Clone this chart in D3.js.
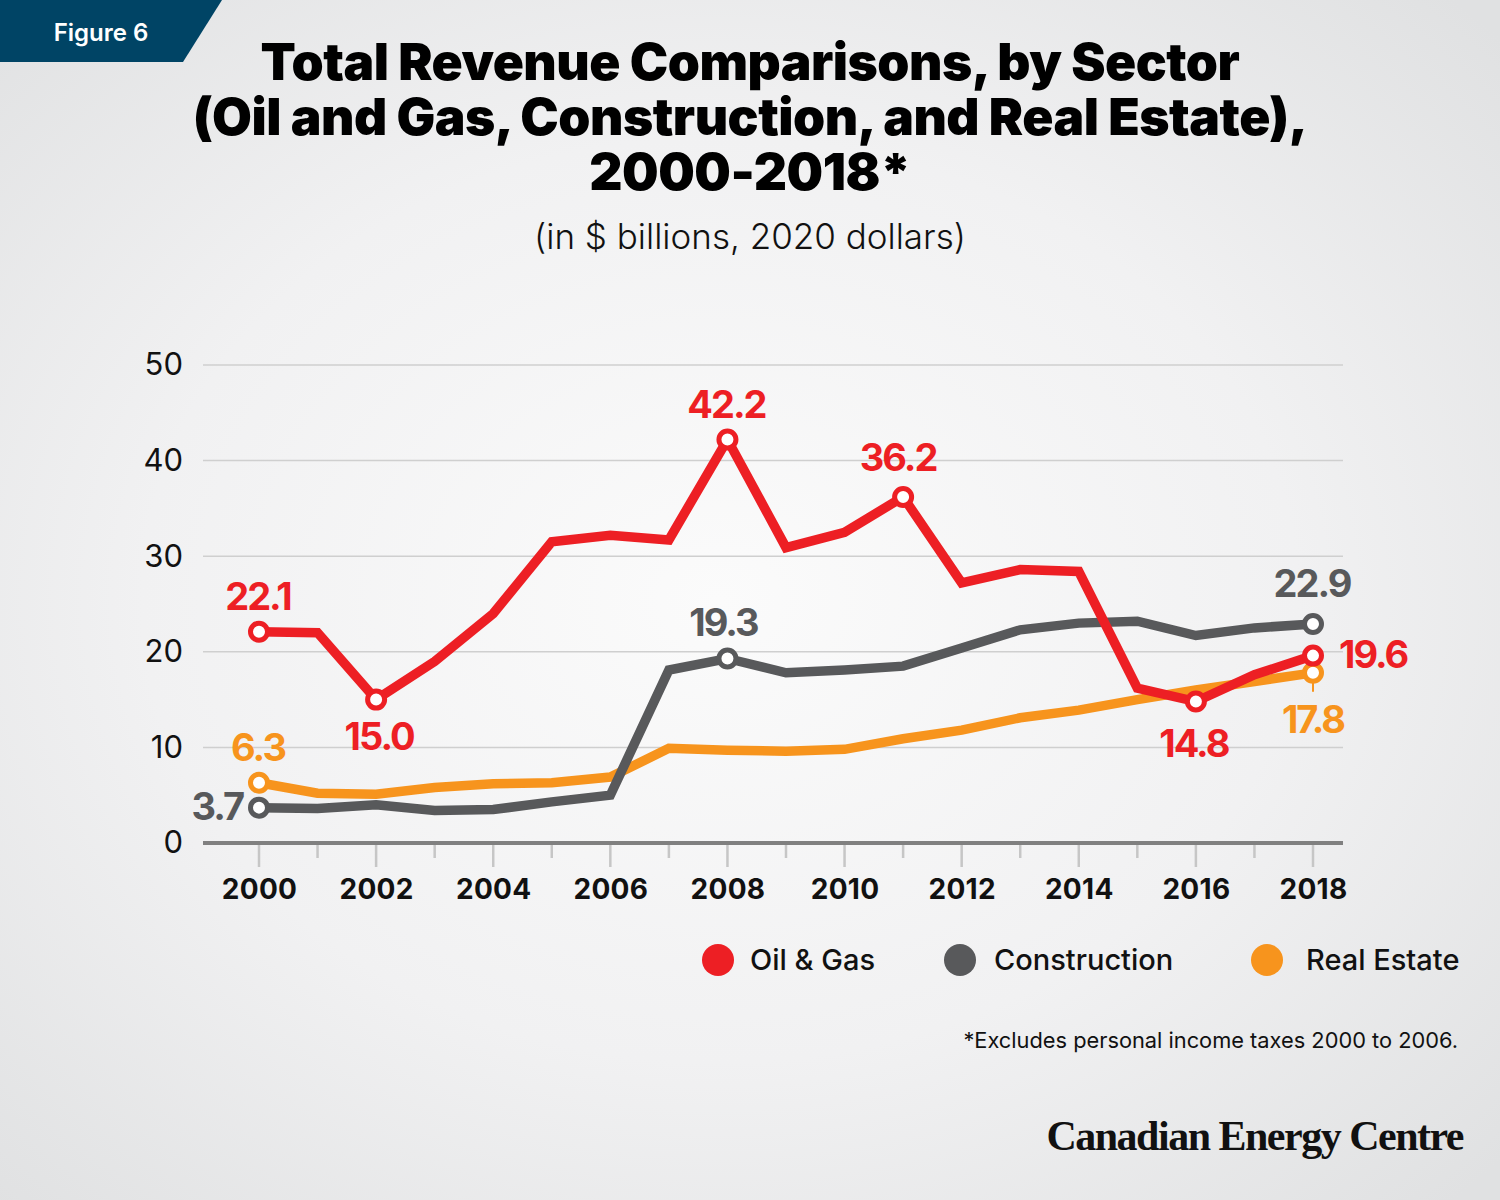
<!DOCTYPE html>
<html>
<head>
<meta charset="utf-8">
<script src="https://cdn.jsdelivr.net/npm/d3@7"></script>
<style>
  body { margin: 0; background: #e8e9ea; }
  svg { display: block; font-family: Inter, "Open Sans", sans-serif; }
</style>
</head>
<body>
<svg id="chart" width="1500" height="1200"></svg>
<script>
// data
var years = d3.range(2000, 2019);
var oilGas =       [22.1, 22.0, 15.0, 19.0, 24.0, 31.5, 32.2, 31.7, 42.2, 30.9, 32.5, 36.2, 27.2, 28.6, 28.4, 16.2, 14.8, 17.6, 19.6];
var construction = [3.7, 3.6, 4.0, 3.4, 3.5, 4.3, 5.0, 18.1, 19.3, 17.8, 18.1, 18.5, 20.4, 22.3, 23.0, 23.2, 21.7, 22.5, 22.9];
var realEstate =   [6.3, 5.2, 5.1, 5.8, 6.2, 6.3, 6.9, 9.9, 9.7, 9.6, 9.8, 10.9, 11.8, 13.1, 13.9, 15.0, 16.0, 16.9, 17.8];
var seriesNames = ["Oil & Gas", "Construction", "Real Estate"];
var yTicks = [0, 10, 20, 30, 40, 50];
var xLabels = [2000, 2002, 2004, 2006, 2008, 2010, 2012, 2014, 2016, 2018];
// which points get a marker + value label
var oilMarked = [2000, 2002, 2008, 2011, 2016, 2018];
var conMarked = [2000, 2008, 2018];
var reMarked = [2000, 2018];

var colors = ["#ed1f24", "#58595b", "#f7941d"];

var svg = d3.select("#chart");

// background
var defs = svg.append("defs");
var grad = defs.append("radialGradient").attr("id", "bg")
    .attr("cx", "48%").attr("cy", "50%").attr("r", "70%");
grad.append("stop").attr("offset", "0%").attr("stop-color", "#fbfbfb");
grad.append("stop").attr("offset", "55%").attr("stop-color", "#f1f1f2");
grad.append("stop").attr("offset", "100%").attr("stop-color", "#e0e1e2");
svg.append("rect").attr("width", 1500).attr("height", 1200).attr("fill", "url(#bg)");

// figure badge
svg.append("path").attr("d", "M0,0 L222,0 L183,62 L0,62 Z").attr("fill", "#004465");
svg.append("text").attr("x", 101).attr("y", 41).attr("text-anchor", "middle")
    .attr("fill", "#fff").attr("font-size", 24).attr("font-weight", 600)
    .text("Figure 6");

// titles
var titleLines = ["Total Revenue Comparisons, by Sector",
                  "(Oil and Gas, Construction, and Real Estate),",
                  "2000-2018*"];
svg.selectAll(".title").data(titleLines).enter().append("text")
    .attr("class", "title")
    .attr("x", 750).attr("y", function(d, i) { return 80 + i * 55; })
    .attr("text-anchor", "middle").attr("font-size", 51.5).attr("font-weight", 900)
    .attr("letter-spacing", -0.5)
    .attr("fill", "#000").text(function(d) { return d; });

svg.append("text").attr("x", 750).attr("y", 249).attr("text-anchor", "middle")
    .attr("font-size", 35).attr("font-weight", 300).attr("fill", "#111")
    .text("(in $ billions, 2020 dollars)");

// scales
var x = d3.scaleLinear().domain([2000, 2018]).range([259, 1313]);
var y = d3.scaleLinear().domain([0, 50]).range([843, 365]);
var left = 203, right = 1343;

// gridlines
svg.append("g").selectAll("line").data(yTicks.slice(1)).enter().append("line")
    .attr("x1", left).attr("x2", right)
    .attr("y1", function(d) { return y(d); }).attr("y2", function(d) { return y(d); })
    .attr("stroke", "#cfcfcf").attr("stroke-width", 1.5);

// y labels
var yAxis = svg.append("g").attr("transform", "translate(" + left + ",0)")
    .call(d3.axisLeft(y).tickValues(yTicks).tickSize(0).tickPadding(20));
yAxis.select(".domain").remove();
yAxis.attr("font-family", null);
yAxis.selectAll("text").attr("font-size", 31).attr("fill", "#111").attr("font-weight", 400);

// x tick marks
svg.append("g").selectAll("line").data(years).enter().append("line")
    .attr("x1", function(d) { return x(d); }).attr("x2", function(d) { return x(d); })
    .attr("y1", 845).attr("y2", function(d) { return d % 2 === 0 ? 867 : 858; })
    .attr("stroke", "#c6c6c6").attr("stroke-width", 2.5);

// x axis line
svg.append("line").attr("x1", left).attr("x2", right).attr("y1", y(0)).attr("y2", y(0))
    .attr("stroke", "#808080").attr("stroke-width", 4);

// x labels
var xAxis = svg.append("g").attr("transform", "translate(0," + y(0) + ")")
    .call(d3.axisBottom(x).tickValues(xLabels).tickFormat(d3.format("d")).tickSize(0).tickPadding(36));
xAxis.select(".domain").remove();
xAxis.attr("font-family", null);
xAxis.selectAll("text").attr("font-size", 28).attr("font-weight", 700).attr("fill", "#111")
    .attr("letter-spacing", 0.3);

// lines
var allSeries = [oilGas, construction, realEstate];
var line = d3.line()
    .x(function(d, i) { return x(years[i]); })
    .y(function(d) { return y(d); });

// draw real estate first, then construction, then oil & gas on top
[2, 1, 0].forEach(function(s) {
  svg.append("path").datum(allSeries[s])
      .attr("d", line)
      .attr("fill", "none").attr("stroke", colors[s]).attr("stroke-width", 9.5)
      .attr("stroke-linejoin", "miter");
});

// small leader under real estate 2018 marker
svg.append("line").attr("x1", x(2018)).attr("x2", x(2018))
    .attr("y1", y(realEstate[18])).attr("y2", y(realEstate[18]) + 19)
    .attr("stroke", colors[2]).attr("stroke-width", 2);

var marked = [oilMarked, conMarked, reMarked];
[2, 1, 0].forEach(function(s) {
  svg.append("g").selectAll("circle").data(marked[s]).enter().append("circle")
      .attr("cx", function(d) { return x(d); })
      .attr("cy", function(d) { return y(allSeries[s][d - 2000]); })
      .attr("r", 8.5).attr("fill", "#fff")
      .attr("stroke", colors[s]).attr("stroke-width", 5);
});

// value labels: offset from the marker
var labelOffsets = {
  "0-2000": [-1, -22, "middle"], "0-2002": [3, 50, "middle"], "0-2008": [-1, -22, "middle"],
  "0-2011": [-5, -26, "middle"], "0-2016": [-2, 55, "middle"], "0-2018": [26, 12, "start"],
  "1-2000": [-16, 12, "end"], "1-2008": [-4, -22, "middle"], "1-2018": [-1, -27, "middle"],
  "2-2000": [-1, -22, "middle"], "2-2018": [0, 60, "middle"]
};
[0, 1, 2].forEach(function(s) {
  svg.append("g").selectAll("text").data(marked[s]).enter().append("text")
      .attr("x", function(d) { return x(d) + labelOffsets[s + "-" + d][0]; })
      .attr("y", function(d) { return y(allSeries[s][d - 2000]) + labelOffsets[s + "-" + d][1]; })
      .attr("text-anchor", function(d) { return labelOffsets[s + "-" + d][2]; })
      .attr("font-size", 38).attr("font-weight", 700).attr("letter-spacing", -2)
      .attr("fill", colors[s])
      .text(function(d) { return d3.format(".1f")(allSeries[s][d - 2000]); });
});

// legend
var legendX = [718, 960, 1267];
var legendTextX = [750, 994, 1306];
var legend = svg.append("g").selectAll("g").data(seriesNames).enter().append("g");
legend.append("circle").attr("cx", function(d, i) { return legendX[i]; }).attr("cy", 960)
    .attr("r", 16).attr("fill", function(d, i) { return colors[i]; });
legend.append("text").attr("x", function(d, i) { return legendTextX[i]; }).attr("y", 970)
    .attr("font-size", 29).attr("font-weight", 500).attr("fill", "#111")
    .text(function(d) { return d; });

// footnote and source
svg.append("text").attr("x", 1458).attr("y", 1048).attr("text-anchor", "end")
    .attr("font-size", 21.8).attr("font-weight", 400).attr("fill", "#111")
    .text("*Excludes personal income taxes 2000 to 2006.");
svg.append("text").attr("x", 1463).attr("y", 1150).attr("text-anchor", "end")
    .style("font-family", "'Liberation Serif', 'DejaVu Serif', serif")
    .attr("font-size", 42).attr("font-weight", 700).attr("letter-spacing", -1.5)
    .attr("fill", "#111").text("Canadian Energy Centre");
</script>
</body>
</html>
